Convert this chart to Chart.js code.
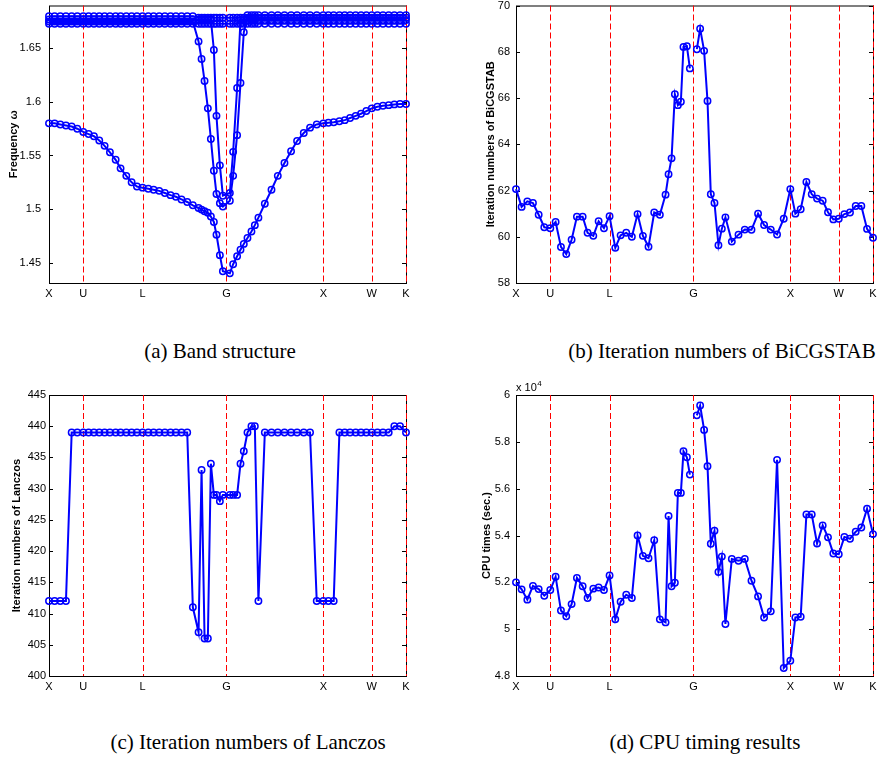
<!DOCTYPE html>
<html>
<head>
<meta charset="utf-8">
<script src="https://cdn.jsdelivr.net/npm/chart.js@4.4.1/dist/chart.umd.min.js"></script>
<style>
  body { margin: 0; background: #fff; width: 886px; height: 762px; position: relative; overflow: hidden; }
  canvas { position: absolute; }
  .cap { position: absolute; width: 500px; text-align: center; font-family: "Liberation Serif", "Times New Roman", serif; font-size: 21px; line-height: 22px; color: #000; white-space: nowrap; }
</style>
</head>
<body>
<canvas id="bandChart" style="left:0;top:0" width="440" height="305"></canvas>
<canvas id="bicgChart" style="left:443px;top:0" width="443" height="305"></canvas>
<canvas id="lanczosChart" style="left:0;top:380px" width="440" height="320"></canvas>
<canvas id="cpuChart" style="left:443px;top:380px" width="443" height="320"></canvas>

<div class="cap" style="left:-30px;top:340px">(a) Band structure</div>
<div class="cap" style="left:472px;top:340px">(b) Iteration numbers of BiCGSTAB</div>
<div class="cap" style="left:-2px;top:731px">(c) Iteration numbers of Lanczos</div>
<div class="cap" style="left:455px;top:731px">(d) CPU timing results</div>

<script>
// k-path coordinate (X-U-L-G-X-W-K), same sampling for every panel
const kPath = [
  0, 0.058, 0.117, 0.175, 0.234, 0.292, 0.354, 0.409, 0.464, 0.519,
  0.574, 0.629, 0.688, 0.739, 0.798, 0.853, 0.908, 0.966, 1.025, 1.080,
  1.138, 1.196, 1.255, 1.310, 1.368, 1.427, 1.485, 1.544, 1.575, 1.606,
  1.640, 1.671, 1.702, 1.729, 1.764, 1.795, 1.832, 1.867, 1.901, 1.942,
  1.977, 2.011, 2.049, 2.090, 2.125, 2.162, 2.228, 2.297, 2.362, 2.431,
  2.499, 2.561, 2.630, 2.695, 2.764, 2.832, 2.884, 2.939, 2.998, 3.053,
  3.108, 3.166, 3.221, 3.276, 3.332, 3.390, 3.448, 3.507, 3.565, 3.624,
  3.6855,
];

const symPos = [0, 0.3536, 0.9659, 1.8319, 2.8319, 3.3319, 3.6855];
const symLabels = ["X", "U", "L", "G", "X", "W", "K"];

// (a) band structure
const band1 = [
  1.580, 1.580, 1.579, 1.578, 1.577, 1.575, 1.572, 1.570, 1.568, 1.564,
  1.559, 1.553, 1.546, 1.538, 1.531, 1.525, 1.521, 1.520, 1.519, 1.518,
  1.517, 1.515, 1.513, 1.5115, 1.509, 1.5066, 1.5035, 1.501, 1.4995, 1.498,
  1.4965, 1.493, 1.488, 1.476, 1.457, 1.442, null, 1.440, 1.4485, 1.456,
  1.462, 1.4675, 1.473, 1.479, 1.485, 1.492, 1.505, 1.518, 1.531, 1.543,
  1.554, 1.5635, 1.571, 1.576, 1.579, 1.580, 1.5805, 1.581, 1.582, 1.583,
  1.585, 1.587, 1.589, 1.5915, 1.594, 1.5955, 1.5965, 1.597, 1.5977, 1.598,
  1.598,
];
const band2 = [
  1.675, 1.675, 1.675, 1.675, 1.675, 1.675, 1.675, 1.675, 1.675, 1.675,
  1.675, 1.675, 1.675, 1.675, 1.675, 1.675, 1.675, 1.675, 1.675, 1.675,
  1.675, 1.675, 1.675, 1.675, 1.675, 1.675, 1.675, 1.6565, 1.640, 1.6195,
  1.594, 1.5654, 1.5357, 1.514, 1.5054, 1.5023, null, 1.5078, 1.531, 1.569,
  1.6177, 1.665, 1.6785, 1.6785, 1.6785, 1.6785, 1.6785, 1.6785, 1.6785, 1.6785,
  1.6785, 1.6785, 1.6785, 1.6785, 1.6785, 1.6785, 1.6785, 1.6785, 1.6785, 1.6785,
  1.6785, 1.6785, 1.6785, 1.6785, 1.6785, 1.6785, 1.6785, 1.6785, 1.6785, 1.6785,
  1.6785,
];
const band3 = [
  1.677, 1.677, 1.677, 1.677, 1.677, 1.677, 1.677, 1.677, 1.677, 1.677,
  1.677, 1.677, 1.677, 1.677, 1.677, 1.677, 1.677, 1.677, 1.677, 1.677,
  1.677, 1.677, 1.677, 1.677, 1.677, 1.677, 1.677, 1.677, 1.677, 1.677,
  1.677, 1.677, 1.6485, 1.587, 1.5408, 1.5125, null, 1.515, 1.5534, 1.613,
  1.6765, 1.6765, 1.6765, 1.6765, 1.6765, 1.6765, 1.6765, 1.6765, 1.6765, 1.6765,
  1.6765, 1.6765, 1.6765, 1.6765, 1.6765, 1.6765, 1.6765, 1.6765, 1.6765, 1.6765,
  1.6765, 1.6765, 1.6765, 1.6765, 1.6765, 1.6765, 1.6765, 1.6765, 1.6765, 1.6765,
  1.6765,
];
const band4 = [
  1.673, 1.673, 1.673, 1.673, 1.673, 1.673, 1.673, 1.673, 1.673, 1.673,
  1.673, 1.673, 1.673, 1.673, 1.673, 1.673, 1.673, 1.673, 1.673, 1.673,
  1.673, 1.673, 1.673, 1.673, 1.673, 1.673, 1.673, 1.673, 1.673, 1.673,
  1.673, 1.673, 1.673, 1.673, 1.673, 1.673, null, 1.673, 1.673, 1.673,
  1.673, 1.673, 1.673, 1.673, 1.673, 1.673, 1.673, 1.673, 1.673, 1.673,
  1.673, 1.673, 1.673, 1.673, 1.673, 1.673, 1.673, 1.673, 1.673, 1.673,
  1.673, 1.673, 1.673, 1.673, 1.673, 1.673, 1.673, 1.673, 1.673, 1.673,
  1.673,
];
const band5 = [
  1.680, 1.680, 1.680, 1.680, 1.680, 1.680, 1.680, 1.680, 1.680, 1.680,
  1.680, 1.680, 1.680, 1.680, 1.680, 1.680, 1.680, 1.680, 1.680, 1.680,
  1.680, 1.680, 1.680, 1.680, 1.680, 1.680, 1.680, 1.6785, 1.6785, 1.6785,
  1.6785, 1.6785, 1.6785, 1.6785, 1.6785, 1.6785, null, 1.6785, 1.6785, 1.6785,
  1.6785, 1.6785, 1.681, 1.681, 1.681, 1.681, 1.681, 1.681, 1.681, 1.681,
  1.681, 1.681, 1.681, 1.681, 1.681, 1.681, 1.681, 1.681, 1.681, 1.681,
  1.681, 1.681, 1.681, 1.681, 1.681, 1.681, 1.681, 1.681, 1.681, 1.681,
  1.681,
];

// (b) BiCGSTAB iterations (no value at G)
const bicgIters = [
  62.06, 61.29, 61.53, 61.46, 60.95, 60.41, 60.37, 60.64, 59.56, 59.25,
  59.87, 60.87, 60.87, 60.17, 60.04, 60.67, 60.37, 60.89, 59.52, 60.06,
  60.17, 60.00, 60.98, 60.04, 59.57, 61.05, 60.95, 61.82, 62.70, 63.39,
  66.16, 65.69, 65.84, 68.21, 68.24, 67.28, null, 68.11, 69.00, 68.04,
  65.87, 61.84, 61.46, 59.63, 60.35, 60.84, 59.79, 60.09, 60.31, 60.30,
  61.00, 60.51, 60.31, 60.10, 60.78, 62.06, 61.00, 61.19, 62.37, 61.84,
  61.65, 61.56, 61.06, 60.75, 60.78, 60.98, 61.05, 61.33, 61.33, 60.34,
  59.96,
];

// (c) Lanczos iterations
const lanczosIters = [
  412, 412, 412, 412, 439, 439, 439, 439, 439, 439,
  439, 439, 439, 439, 439, 439, 439, 439, 439, 439,
  439, 439, 439, 439, 439, 439, 411, 407, 433, 406,
  406, 434, 429, 429, 428, 429, null, 429, 429, 429,
  434, 436, 439, 440, 440, 412, 439, 439, 439, 439,
  439, 439, 439, 439, 412, 412, 412, 412, 439, 439,
  439, 439, 439, 439, 439, 439, 439, 439, 440, 440,
  439,
];

// (d) CPU times in seconds
const cpuTimes = [
  52000, 51700, 51260, 51850, 51710, 51430, 51670, 52240, 50800, 50550,
  51070, 52190, 51830, 51330, 51730, 51780, 51670, 52290, 50420, 51170,
  51470, 51330, 54000, 53130, 53030, 53800, 50420, 50290, 54830, 51830,
  51980, 55820, 55820, 57600, 57340, 56600, null, 59130, 59550, 58510,
  56960, 53650, 54200, 52440, 53100, 50220, 53000, 52920, 53000, 52070,
  51400, 50500, 50760, 57230, 48340, 48650, 50500, 50530, 54900, 54900,
  53660, 54430, 53920, 53230, 53200, 53940, 53860, 54160, 54340, 55140,
  54060,
];

const freqTicks = [1.45, 1.5, 1.55, 1.6, 1.65];
const bicgTicks = [58, 60, 62, 64, 66, 68, 70];
const lanczosTicks = [400, 405, 410, 415, 420, 425, 430, 435, 440, 445];
const cpuTicks = [48000, 50000, 52000, 54000, 56000, 58000, 60000];

const SANS = "'Liberation Sans', Arial, Helvetica, sans-serif";
const BLUE = "#0000ff";

function toPoints(values) {
  return kPath.map((x, i) => ({ x, y: values[i] }));
}

function series(values, spanGaps) {
  return {
    data: toPoints(values),
    borderColor: BLUE,
    borderWidth: 2,
    pointStyle: "circle",
    pointRadius: 3.2,
    pointBorderWidth: 1.5,
    pointBorderColor: BLUE,
    pointBackgroundColor: "rgba(0,0,0,0)",
    spanGaps,
    clip: false,
  };
}

// box, inward ticks, dashed symmetry lines
const framePlugin = {
  id: "frame",
  beforeDatasetsDraw(chart) {
    const { ctx, chartArea: a, scales } = chart;
    ctx.save();
    ctx.strokeStyle = "#000";
    ctx.lineWidth = 1;
    ctx.strokeRect(a.left + 0.5, a.top + 0.5, a.right - a.left, a.bottom - a.top);
    ctx.beginPath();
    scales.y.ticks.forEach(t => {
      const py = Math.round(scales.y.getPixelForValue(t.value)) + 0.5;
      ctx.moveTo(a.left, py); ctx.lineTo(a.left + 4, py);
      ctx.moveTo(a.right - 4, py); ctx.lineTo(a.right, py);
    });
    ctx.stroke();
    ctx.strokeStyle = "#ff0000";
    ctx.setLineDash([6, 3]);
    ctx.beginPath();
    symPos.slice(1).forEach(v => {
      const px = Math.round(scales.x.getPixelForValue(v)) + 0.5;
      ctx.moveTo(px, a.top);
      ctx.lineTo(px, a.bottom);
    });
    ctx.stroke();
    ctx.restore();
  },
  afterDraw(chart, args, opts) {
    if (!opts.exponent) return;
    const { ctx, chartArea: a } = chart;
    ctx.save();
    ctx.fillStyle = "#000";
    ctx.font = "11px " + SANS;
    ctx.fillText("x 10", a.left, a.top - 4);
    const w = ctx.measureText("x 10").width;
    ctx.font = "8px " + SANS;
    ctx.fillText(opts.exponent, a.left + w + 0.5, a.top - 9);
    ctx.restore();
  },
};

function makePanel(id, cfg) {
  const canvas = document.getElementById(id);
  return new Chart(canvas, {
    type: "line",
    data: { datasets: cfg.datasets },
    options: {
      responsive: false,
      animation: false,
      events: [],
      layout: { padding: { top: cfg.top, right: cfg.right, left: 0, bottom: 0 } },
      plugins: {
        legend: { display: false },
        tooltip: { enabled: false },
        frame: { exponent: cfg.exponent || null },
      },
      scales: {
        x: {
          type: "linear",
          min: 0,
          max: 3.6855,
          grid: { display: false, drawTicks: false },
          border: { display: false },
          afterBuildTicks: s => { s.ticks = symPos.map(v => ({ value: v })); },
          ticks: {
            autoSkip: false,
            maxRotation: 0,
            padding: 4,
            color: "#000",
            font: { family: SANS, size: 11 },
            callback: (v, i) => symLabels[i],
          },
          afterFit: s => { s.height = cfg.xHeight; s.paddingLeft = 0; s.paddingRight = 0; },
        },
        y: {
          type: "linear",
          min: cfg.yMin,
          max: cfg.yMax,
          grid: { display: false, drawTicks: false },
          border: { display: false },
          afterBuildTicks: s => { s.ticks = cfg.yTicks.map(v => ({ value: v })); },
          ticks: {
            padding: cfg.tickPad,
            color: "#000",
            font: { family: SANS, size: 11 },
            callback: cfg.fmt,
          },
          title: {
            display: true,
            text: cfg.yTitle,
            color: "#000",
            font: { family: SANS, size: 11, weight: "bold" },
            padding: { top: cfg.titlePad, bottom: 0 },
          },
          afterFit: s => { s.width = cfg.yWidth; s.paddingTop = 0; s.paddingBottom = 0; },
        },
      },
    },
    plugins: [framePlugin],
  });
}

makePanel("bandChart", {
  datasets: [
    series(band1, true), series(band2, true), series(band3, true),
    series(band4, true), series(band5, true),
  ],
  yMin: 1.431, yMax: 1.69, yTicks: freqTicks,
  fmt: v => String(+v.toFixed(2)),
  yTitle: "Frequency \u03c9",
  top: 3, right: 34, xHeight: 22, yWidth: 49, tickPad: 8, titlePad: 7,
});

makePanel("bicgChart", {
  datasets: [series(bicgIters, false)],
  yMin: 58, yMax: 70, yTicks: bicgTicks,
  fmt: v => String(v),
  yTitle: "Iteration numbers of BiCGSTAB",
  top: 3, right: 13, xHeight: 22, yWidth: 73, tickPad: 6, titlePad: 41,
});

makePanel("lanczosChart", {
  datasets: [series(lanczosIters, true)],
  yMin: 400, yMax: 445, yTicks: lanczosTicks,
  fmt: v => String(v),
  yTitle: "Iteration numbers of Lanczos",
  top: 15, right: 34, xHeight: 24, yWidth: 49, tickPad: 3, titlePad: 10,
});

makePanel("cpuChart", {
  datasets: [series(cpuTimes, false)],
  yMin: 48000, yMax: 60000, yTicks: cpuTicks,
  fmt: v => String(+(v / 1e4).toFixed(1)),
  yTitle: "CPU times (sec.)",
  top: 15, right: 13, xHeight: 24, yWidth: 73, tickPad: 6, titlePad: 37,
  exponent: "4",
});
</script>
</body>
</html>
